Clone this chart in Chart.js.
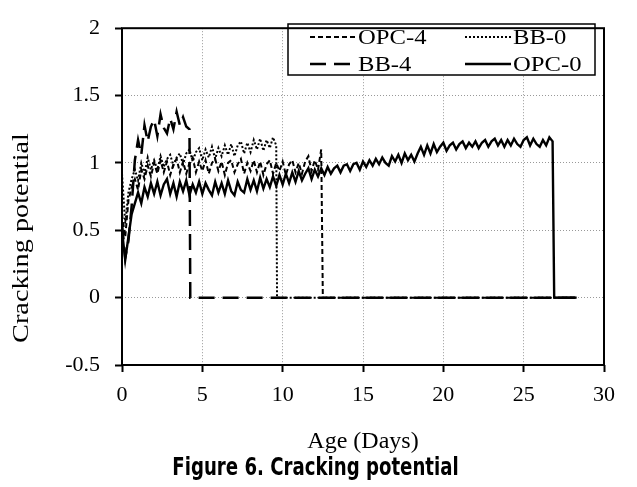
<!DOCTYPE html>
<html>
<head>
<meta charset="utf-8">
<script src="https://cdn.jsdelivr.net/npm/chart.js@4.4.1/dist/chart.umd.min.js"></script>
<style>
  html, body { margin: 0; padding: 0; background: #fff; }
  #wrap { position: relative; width: 637px; height: 487px; }
  #caption {
    position: absolute; left: 0; top: 453px; width: 631px;
    text-align: center;
    font: bold 24px 'DejaVu Sans Condensed', 'DejaVu Sans', sans-serif;
    transform: scaleX(0.84);
    color: #000;
  }
</style>
</head>
<body>
<div id="wrap">
  <canvas id="crackChart" width="637" height="487"></canvas>
  <div id="caption">Figure 6. Cracking potential</div>
</div>
<script>
// readings are every 0.2 day starting at day 0, then the line drops to 0 at cracking
const step = 0.2;
const endDay = 28.3;

const xTicks = [0, 5, 10, 15, 20, 25, 30];
const yTicks = [-0.5, 0, 0.5, 1, 1.5, 2];

const opc4Vals = [
  0.62, 0.45, 0.72, 0.82, 0.88, 0.80, 0.95, 0.88, 0.98, 0.90,
  1.00, 0.92, 1.02, 0.93, 1.01, 0.91, 0.99, 1.03, 0.93, 1.01,
  0.92, 1.00, 1.04, 0.93, 1.01, 0.94, 1.02, 0.92, 1.00, 1.03,
  0.94, 1.01, 0.91, 1.00, 1.02, 0.93, 0.99, 1.03, 0.92, 1.00,
  0.94, 1.02, 0.93, 1.01, 0.91, 0.99, 1.02, 0.92, 1.00, 0.94,
  1.01, 0.91, 0.99, 1.02, 0.93, 1.00, 0.92, 1.01, 1.05, 0.94,
  1.02, 0.95, 1.10
];
const opc4Crack = 12.5;

const bb0Vals = [
  0.92, 0.55, 0.78, 0.88, 0.95, 0.87, 1.00, 0.92, 1.04, 0.95,
  1.02, 0.95, 1.05, 0.97, 1.03, 1.06, 0.98, 1.04, 1.07, 0.99,
  1.07, 1.10, 1.01, 1.08, 1.11, 1.02, 1.10, 1.04, 1.12, 1.03,
  1.11, 1.05, 1.13, 1.06, 1.14, 1.05, 1.13, 1.16, 1.07, 1.15,
  1.08, 1.17, 1.10, 1.18, 1.09, 1.17, 1.11, 1.19, 1.13
];
const bb0Crack = 9.65;

const bb4Vals = [
  0.55, 0.30, 0.42, 0.68, 1.02, 1.17, 1.06, 1.28, 1.16, 1.27,
  1.32, 1.20, 1.36, 1.26, 1.22, 1.33, 1.25, 1.38, 1.28, 1.34,
  1.27, 1.25
];
const bb4Crack = 4.25;

const opc0Vals = [
  0.50, 0.28, 0.45, 0.62, 0.70, 0.78, 0.70, 0.82, 0.75, 0.85,
  0.77, 0.86, 0.76, 0.84, 0.88, 0.77, 0.85, 0.75, 0.86, 0.79,
  0.87, 0.76, 0.84, 0.78, 0.86, 0.77, 0.85, 0.80, 0.76, 0.86,
  0.78, 0.85, 0.77, 0.87, 0.79, 0.76, 0.86, 0.80, 0.78, 0.88,
  0.80, 0.87, 0.79, 0.89, 0.81, 0.88, 0.82, 0.90, 0.83, 0.91,
  0.84, 0.92, 0.85, 0.93, 0.86, 0.94, 0.87, 0.92, 0.96, 0.88,
  0.95, 0.90, 0.96, 0.91, 0.97, 0.92, 0.96, 0.98, 0.93, 0.98,
  0.99, 0.94, 0.99, 1.00, 0.95, 1.01, 0.97, 1.02, 0.98, 1.03,
  0.99, 1.04, 1.00, 0.98, 1.05, 1.01, 1.06, 1.00, 1.07, 1.02,
  1.06, 1.01, 1.07, 1.12, 1.06, 1.13, 1.07, 1.14, 1.08, 1.12,
  1.15, 1.09, 1.13, 1.15, 1.10, 1.14, 1.16, 1.11, 1.15, 1.12,
  1.16, 1.11, 1.15, 1.17, 1.12, 1.16, 1.18, 1.13, 1.17, 1.12,
  1.17, 1.13, 1.18, 1.14, 1.12, 1.17, 1.19, 1.13, 1.18, 1.14,
  1.12, 1.17, 1.13, 1.19, 1.16
];
const opc0Crack = 26.9;

function toPoints(vals, crackDay) {
  const pts = vals.map((v, i) => ({ x: Math.round(i * step * 10) / 10, y: v }));
  pts.push({ x: crackDay, y: 0 });
  pts.push({ x: endDay, y: 0 });
  return pts;
}

const serif = "'Liberation Serif', 'Times New Roman', serif";

// box legend inside the plot, two columns
const legendBox = {
  id: 'legendBox',
  afterDatasetsDraw(chart) {
    const ctx = chart.ctx;
    const ds = chart.data.datasets;
    const cells = [
      { x: 310, y: 37 }, { x: 465, y: 37 },
      { x: 310, y: 64 }, { x: 465, y: 64 }
    ];
    ctx.save();
    ctx.fillStyle = '#fff';
    ctx.fillRect(288, 24, 307, 51);
    ctx.strokeStyle = '#000';
    ctx.lineWidth = 1.5;
    ctx.strokeRect(288, 24, 307, 51);
    ctx.font = '22px ' + serif;
    ctx.textBaseline = 'middle';
    ctx.fillStyle = '#000';
    ds.forEach((d, i) => {
      const c = cells[i];
      ctx.beginPath();
      ctx.setLineDash(d.borderDash || []);
      ctx.lineWidth = d.borderWidth;
      ctx.moveTo(c.x, c.y);
      ctx.lineTo(c.x + 46, c.y);
      ctx.stroke();
      ctx.setLineDash([]);
      ctx.save();
      ctx.translate(c.x + 48, c.y + 1);
      ctx.scale(1.12, 1);
      ctx.fillText(d.label, 0, 0);
      ctx.restore();
    });
    ctx.restore();
  }
};

// plot frame and rotated y title
const frame = {
  id: 'frame',
  afterDraw(chart) {
    const { ctx, chartArea: a } = chart;
    ctx.save();
    ctx.strokeStyle = '#000';
    ctx.lineWidth = 2;
    ctx.strokeRect(a.left, a.top, a.right - a.left, a.bottom - a.top);
    ctx.translate(22, 238);
    ctx.rotate(-Math.PI / 2);
    ctx.scale(1.18, 1);
    ctx.font = '24px ' + serif;
    ctx.textAlign = 'center';
    ctx.textBaseline = 'middle';
    ctx.fillStyle = '#000';
    ctx.fillText('Cracking potential', 0, 0);
    ctx.restore();
  }
};

const ctx = document.getElementById('crackChart').getContext('2d');
new Chart(ctx, {
  type: 'line',
  data: {
    datasets: [
      { label: 'OPC-4', data: toPoints(opc4Vals, opc4Crack), borderDash: [5, 3], borderWidth: 2 },
      { label: 'BB-0', data: toPoints(bb0Vals, bb0Crack), borderDash: [2, 2], borderWidth: 2 },
      { label: 'BB-4', data: toPoints(bb4Vals, bb4Crack), borderDash: [16, 8], borderWidth: 2.5 },
      { label: 'OPC-0', data: toPoints(opc0Vals, opc0Crack), borderWidth: 2.4 }
    ].map(d => Object.assign({
      borderColor: '#000',
      backgroundColor: '#000',
      pointRadius: 0,
      tension: 0,
      fill: false
    }, d))
  },
  options: {
    responsive: false,
    animation: false,
    devicePixelRatio: 1,
    layout: { padding: { top: 17, right: 33, left: 0, bottom: 0 } },
    plugins: {
      legend: { display: false },
      tooltip: { enabled: false }
    },
    scales: {
      x: {
        type: 'linear',
        min: 0,
        max: 30,
        afterBuildTicks: s => { s.ticks = xTicks.map(v => ({ value: v })); },
        afterFit: s => { s.height = 122; },
        ticks: { color: '#000', padding: 10, maxRotation: 0, font: { family: serif, size: 22 } },
        grid: { color: '#999', lineWidth: 1, tickLength: 7, tickColor: '#000', tickWidth: 2 },
        border: { display: false, dash: [1, 2] },
        title: {
          display: true,
          text: 'Age (Days)',
          color: '#000',
          font: { family: serif, size: 24 },
          padding: { top: 0, bottom: 31 }
        }
      },
      y: {
        min: -0.5,
        max: 2,
        afterBuildTicks: s => { s.ticks = yTicks.map(v => ({ value: v })); },
        afterFit: s => { s.width = 122; },
        ticks: {
          color: '#000', padding: 15, font: { family: serif, size: 22 },
          callback: v => String(v)
        },
        grid: { color: '#999', lineWidth: 1, tickLength: 7, tickColor: '#000', tickWidth: 2 },
        border: { display: false, dash: [1, 2] }
      }
    }
  },
  plugins: [legendBox, frame]
});
</script>
</body>
</html>
